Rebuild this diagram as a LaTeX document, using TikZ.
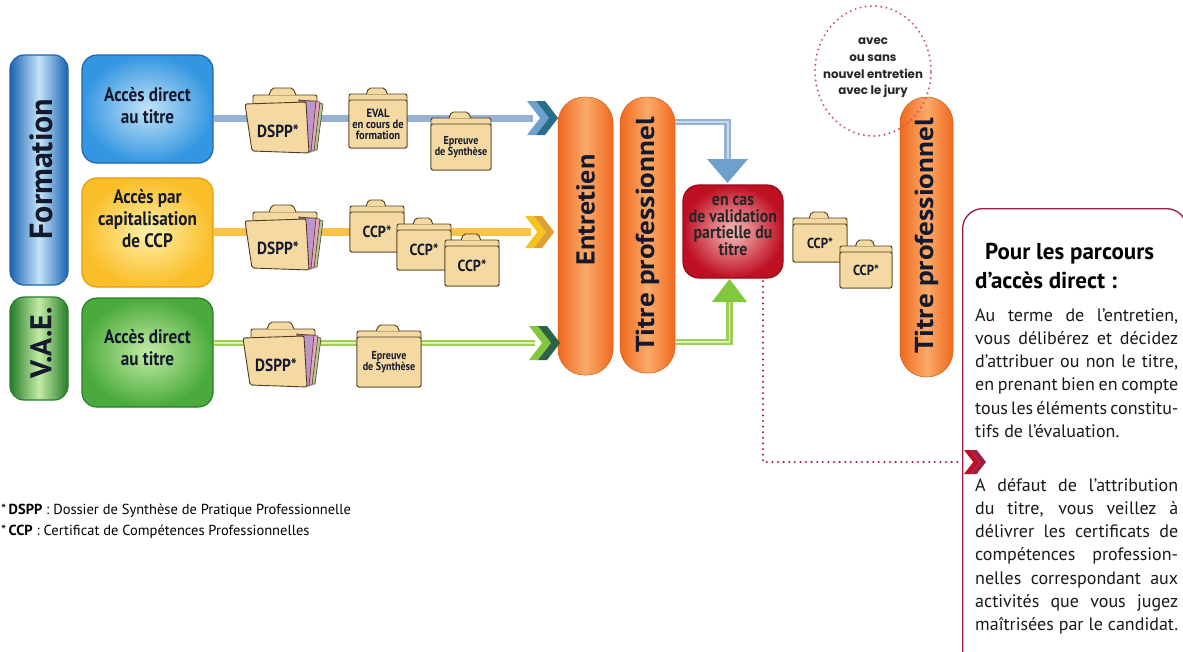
\documentclass[tikz,border=0pt]{standalone}
\usepackage{fontspec}
\setmainfont{PT Sans}
\newfontfamily\cond[FakeStretch=0.88]{PT Sans}
\newfontfamily\ptsans{PT Sans}
\newfontfamily\geo{Poppins}
\usetikzlibrary{calc}
\definecolor{bluedk}{RGB}{28,100,178}
\definecolor{bluemd}{RGB}{52,150,225}
\definecolor{bluelt}{RGB}{195,228,248}
\definecolor{ordk}{RGB}{236,150,10}
\definecolor{ormd}{RGB}{250,190,40}
\definecolor{orlt}{RGB}{255,240,170}
\definecolor{grdk}{RGB}{38,125,42}
\definecolor{grmd}{RGB}{75,170,60}
\definecolor{grlt}{RGB}{195,236,165}
\definecolor{capo}{RGB}{240,105,30}
\definecolor{capl}{RGB}{251,170,105}
\definecolor{reddk}{RGB}{190,15,35}
\definecolor{redlt}{RGB}{248,190,190}
\definecolor{foldf}{RGB}{245,217,163}
\definecolor{foldd}{RGB}{80,60,30}
\definecolor{bline}{RGB}{150,178,210}
\definecolor{blinel}{RGB}{200,218,236}
\definecolor{oline}{RGB}{248,195,70}
\definecolor{gline}{RGB}{160,205,85}
\definecolor{glinel}{RGB}{218,240,180}
\definecolor{chbA}{RGB}{110,160,205}
\definecolor{chbB}{RGB}{40,110,140}
\definecolor{choA}{RGB}{245,195,30}
\definecolor{choB}{RGB}{225,160,50}
\definecolor{chgA}{RGB}{130,200,60}
\definecolor{chgB}{RGB}{45,100,70}
\definecolor{dotc}{RGB}{160,30,70}
\definecolor{circc}{RGB}{205,80,125}
\definecolor{boxc}{RGB}{155,28,60}
\definecolor{txt}{RGB}{20,25,45}
\definecolor{pinkp}{RGB}{232,165,185}
\definecolor{lavp}{RGB}{190,150,205}
\definecolor{greenp}{RGB}{175,205,150}

\tikzset{
  glossy/.style n args={3}{rounded corners=15pt, draw=#1, line width=1.2pt, inner color=#3, outer color=#2},
  vbar/.style n args={2}{rounded corners=14pt, draw=#1, line width=1.2pt, left color=#1, right color=#1, middle color=#2},
  capsule/.style={rounded corners=26pt, left color=capo, right color=capo, middle color=capl, draw=capo!85!black, line width=0.5pt},
  boxlabel/.style={font=\cond\bfseries\fontsize{19.5}{22}\selectfont, text=txt, align=center, inner sep=0pt},
  vlabel/.style={rotate=90, font=\ptsans\bfseries\fontsize{26}{26}\selectfont, text=txt, inner sep=0pt},
  folder/.style={fill=foldf, draw=foldd, line width=0.9pt, rounded corners=2pt},
  paper/.style={draw=foldd, line width=0.6pt},
  flabel/.style={text=txt, align=center, inner sep=0pt},
  bl/.style={line width=7pt, draw=bline},
  ol/.style={line width=8pt, draw=oline},
  gl/.style={line width=2.6pt, draw=gline, double=glinel, double distance=1.6pt},
  blc/.style={line width=2.2pt, draw=bline, double=blinel, double distance=2pt},
  dotline/.style={draw=dotc, line width=2.3pt, line cap=round, dash pattern=on 0pt off 5.6pt},
  circdots/.style={draw=circc, line width=2.2pt, line cap=round, dash pattern=on 0pt off 5.2pt},
  bodytxt/.style={font=\fontsize{18}{20}\selectfont, text=black!90, inner sep=0pt, anchor=base west},
}

\newcommand\folderbox[7]{% name x y w h font label
  \begin{scope}[shift={(#2,#3)}]
    \draw[folder] (0,6) rectangle (#4,#5);
    \draw[folder] ({0.3*#4},6) -- ({0.34*#4},0) -- ({0.62*#4},0) -- ({0.66*#4},6);
    \draw[folder] (0,12) rectangle (#4,#5);
    \node[flabel, font=\cond\bfseries#6] (#1) at ({#4/2},{(#5+12)/2}) {#7};
  \end{scope}}

\newcommand\dsppfolder[3]{% name x y
  \begin{scope}[shift={(#2,#3)}]
    \draw[folder] (8,7) rectangle (72,60);
    \draw[folder] (24,7) -- (27,0) -- (48,0) -- (51,7);
    \draw[paper, fill=greenp] (54,12) -- (78,16) -- (72,62) -- (58,62) -- cycle;
    \draw[paper, fill=pinkp] (54,12) -- (75,14) -- (69,63) -- (58,63) -- cycle;
    \draw[paper, fill=lavp] (54,13) -- (71,13) -- (66,64) -- (58,64) -- cycle;
    \draw[folder] (0,16) -- (61,14) -- (64,65) -- (7,63) -- cycle;
    \node[flabel, font=\cond\bfseries\fontsize{17.5}{17}\selectfont] (#1) at (33,43) {DSPP*};
  \end{scope}}

\newcommand\chev[5]{% x y colA colB half-height
  \fill[#3] (#1,#2-#5) -- (#1+0.53*#5,#2-#5) -- (#1+1.3*#5,#2) -- (#1+0.53*#5,#2+#5) -- (#1,#2+#5) -- (#1+0.77*#5,#2) -- cycle;
  \fill[#4] (#1+0.53*#5,#2-#5) -- (#1+1.06*#5,#2-#5) -- (#1+1.83*#5,#2) -- (#1+1.06*#5,#2+#5) -- (#1+0.53*#5,#2+#5) -- (#1+1.3*#5,#2) -- cycle;}

\begin{document}
\begin{tikzpicture}[x=1pt,y=-1pt]
\useasboundingbox (0,0) rectangle (1183,651);
\clip (0,0) rectangle (1183,651);
\fill[white] (0,0) rectangle (1183,651);

% left vertical bars
\node[vbar={bluedk}{bluelt}, minimum width=58pt, minimum height=230pt] (form) at (39,170) {};
\node[vlabel, font=\ptsans\bfseries\fontsize{32}{32}\selectfont] (formt) at (41,169) {Formation};
\node[vbar={grdk}{grlt}, minimum width=58pt, minimum height=103pt] (vae) at (39,348.5) {};
\node[vlabel, font=\ptsans\bfseries\fontsize{30}{30}\selectfont] (vaet) at (41,343) {V.A.E.};

% access boxes
\node[glossy={bluedk}{bluemd}{bluelt}, minimum width=131pt, minimum height=108pt] (acc1) at (147.5,109) {};
\node[boxlabel] (acc1t) at (147.5,106) {Accès direct\\au titre};
\node[glossy={ordk}{ormd}{orlt}, minimum width=131pt, minimum height=109pt] (acc2) at (147.5,232.5) {};
\node[boxlabel] (acc2t) at (147.5,219) {Accès par\\capitalisation\\de CCP};
\node[glossy={grdk}{grmd}{grlt}, minimum width=131pt, minimum height=109pt] (acc3) at (147.5,352.5) {};
\node[boxlabel] (acc3t) at (147.5,347.5) {Accès direct\\au titre};

% capsules
\node[capsule, minimum width=55pt, minimum height=278pt] (ent) at (585.5,236) {};
\node[vlabel] (entt) at (585.5,210) {\scalebox{1.08}[1]{Entretien}};
\node[capsule, minimum width=55pt, minimum height=276pt] (tp1) at (647.5,235) {};
\node[vlabel] (tp1t) at (647.5,235) {\scalebox{1.12}[1]{Titre professionnel}};
\node[capsule, minimum width=53pt, minimum height=280pt] (tp2) at (926.5,237) {};
\node[vlabel] (tp2t) at (926.5,236) {\scalebox{1.12}[1]{Titre professionnel}};

% row lines
\coordinate (cb) at (527,118);
\coordinate (co) at (525,232);
\coordinate (cg) at (529,343);
\draw[bl] (acc1.east |- cb) -- ($(cb)+(6,0)$);
\draw[ol] (acc2.east |- co) -- ($(co)+(6,0)$);
\draw[gl] (acc3.east |- cg) -- ($(cg)+(6,0)$);
\chev{527}{118}{chbA}{chbB}{17}
\chev{525}{232}{choA}{choB}{16}
\chev{529}{343}{chgA}{chgB}{17}

% folders row 1
\dsppfolder{d1}{245}{88}
\folderbox{ev}{349}{88}{58}{60}{\fontsize{12}{11}\selectfont}{EVAL\\en cours de\\formation}
\folderbox{ep1}{431}{112}{60}{58}{\fontsize{11.5}{10}\selectfont}{Epreuve\\de Synthèse}
% folders row 2
\dsppfolder{d2}{245}{205}
\folderbox{c1}{350}{200}{54}{52}{\fontsize{16}{16}\selectfont}{CCP*}
\folderbox{c2}{397}{218}{54}{52}{\fontsize{16}{16}\selectfont}{CCP*}
\folderbox{c3}{445}{234}{54}{52}{\fontsize{16}{16}\selectfont}{CCP*}
% folders row 3
\dsppfolder{d3}{243}{322}
\folderbox{ep3}{357}{325}{64}{62}{\fontsize{11.5}{10}\selectfont}{Epreuve\\de Synthèse}

% red box
\node[glossy={reddk!80!black}{reddk}{redlt}, rounded corners=16pt, minimum width=100pt, minimum height=93pt] (red) at (733,231.5) {};
\node[flabel, font=\cond\bfseries\fontsize{18}{16.5}\selectfont, text=black!85] (redt) at (733,226) {en cas\\de validation\\partielle du\\titre};

% connectors to red box
\coordinate (bt) at (727.5,161);
\draw[blc] (tp1.east |- 0,122) -| (bt);
\fill[chbA] (707,159) -- (748,159) -- (727.5,183) -- cycle;
\coordinate (gt) at (729.5,301);
\draw[gl] (tp1.east |- 0,342) -| (gt);
\fill[chgA] (712,302) -- (747,302) -- (729.5,279) -- cycle;

% CCP folders after red box
\folderbox{c4}{793}{212}{54}{50}{\fontsize{14.5}{14}\selectfont}{CCP*}
\folderbox{c5}{840}{240}{52}{48}{\fontsize{14.5}{14}\selectfont}{CCP*}

% dotted circle
\draw[circdots] (873,71) ellipse [x radius=58pt, y radius=65pt];
\node[font=\geo\bfseries\fontsize{11.8}{16.7}\selectfont, align=center, text=black!85, inner sep=0pt] (circt) at (873,68) {avec\\ou sans\\nouvel entretien\\avec le jury};

% right box
\node[draw=boxc, line width=1.3pt, rounded corners=20pt, minimum width=224pt, minimum height=480pt, anchor=north west, inner sep=0pt] (rbox) at (962,208) {};

% dotted connector
\coordinate (dend) at (961,462);
\draw[dotline] (763,281) -- (763,462) -- (dend);
\chev{964}{462}{reddk}{dotc}{12}

% title
\node[bodytxt, font=\bfseries\fontsize{23}{24}\selectfont, text=black] (ti1) at (985,259) {Pour les parcours};
\node[bodytxt, font=\bfseries\fontsize{23}{24}\selectfont, text=black] (ti2) at (975,288) {d’accès direct :};

\newcommand\jl[3]{\node[bodytxt] (#1) at (975,#2) {\makebox[203pt][s]{#3}};}
\newcommand\nl[3]{\node[bodytxt] (#1) at (975,#2) {#3};}
\jl{l1}{321}{Au terme de l’entretien,}
\jl{l2}{344.3}{vous délibérez et décidez}
\jl{l3}{367.6}{d’attribuer ou non le titre,}
\jl{l4}{390.9}{en prenant bien en compte}
\jl{l5}{414.2}{tous les éléments constitu-}
\nl{l6}{437.5}{tifs de l’évaluation.}
\jl{l7}{491}{A défaut de l’attribution}
\jl{l8}{514.3}{du titre, vous veillez à}
\jl{l9}{537.6}{délivrer les certificats de}
\jl{l10}{560.9}{compétences profession-}
\jl{l11}{584.2}{nelles correspondant aux}
\jl{l12}{607.5}{activités que vous jugez}
\jl{l13}{630.8}{maîtrisées par le candidat.}

% footnotes
\node[anchor=base west, inner sep=0pt, font=\ptsans\fontsize{14.5}{14}\selectfont] (fn1) at (1,514) {*\,{\bfseries DSPP} : Dossier de Synthèse de Pratique Professionnelle};
\node[anchor=base west, inner sep=0pt, font=\ptsans\fontsize{14.5}{14}\selectfont] (fn2) at (1,535) {*\,{\bfseries CCP} : Certificat de Compétences Professionnelles};
\end{tikzpicture}
\end{document}
